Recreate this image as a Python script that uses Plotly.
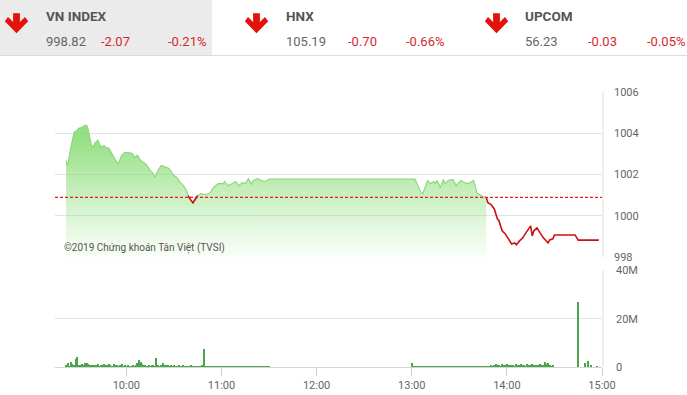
import plotly.graph_objects as go
import pandas as pd

W, H = 687, 395
DAY = "2019-06-03 "
ref_close = 1000.89

# ---- header data ----
header_names = ["VN INDEX", "HNX", "UPCOM"]
header_values = ["998.82", "105.19", "56.23"]
header_changes = ["-2.07", "-0.70", "-0.03"]
header_pcts = ["-0.21%", "-0.66%", "-0.05%"]

# ---- intraday index ----
price_times = [
    "09:22", "09:23", "09:25", "09:27", "09:29", "09:30", "09:32", "09:34", "09:35", "09:36",
    "09:37", "09:38", "09:39", "09:40", "09:42", "09:43", "09:44", "09:46", "09:47", "09:49",
    "09:51", "09:52", "09:54", "09:55", "09:57", "09:59", "10:01", "10:04", "10:05", "10:07",
    "10:09", "10:11", "10:13", "10:15", "10:17", "10:18", "10:20", "10:22", "10:25", "10:27",
    "10:29", "10:30", "10:32", "10:34", "10:36", "10:38", "10:39", "10:40", "10:42", "10:44",
    "10:45", "10:47", "10:50", "10:53", "10:55", "10:58", "11:01", "11:02", "11:04", "11:07",
    "11:09", "11:11", "11:13", "11:15", "11:17", "11:19", "11:20", "11:23", "11:25", "11:28",
    "11:30", "13:02", "13:04", "13:06", "13:07", "13:09", "13:10", "13:12", "13:14", "13:15",
    "13:16", "13:18", "13:20", "13:21", "13:23", "13:26", "13:28", "13:29", "13:31", "13:33",
    "13:35", "13:37", "13:39", "13:40", "13:41", "13:43", "13:45", "13:47", "13:48", "13:50",
    "13:52", "13:54", "13:55", "13:57", "13:59", "14:01", "14:03", "14:05", "14:06", "14:08",
    "14:10", "14:12", "14:14", "14:15", "14:16", "14:17", "14:19", "14:21", "14:23", "14:26",
    "14:27", "14:29", "14:30", "14:43", "14:45", "14:58",
]
price_values = [
    1002.68, 1002.44, 1003.32, 1004.05, 1004.15, 1004.24, 1004.29, 1004.39, 1004.39, 1004.15,
    1003.76, 1003.41, 1003.32, 1003.51, 1003.66, 1003.51, 1003.32, 1003.41, 1003.32, 1003.27,
    1003.02, 1002.83, 1002.59, 1002.54, 1002.93, 1003.07, 1003.07, 1003.02, 1002.83, 1002.93,
    1002.68, 1002.59, 1002.44, 1002.20, 1002.05, 1001.85, 1002.20, 1002.44, 1002.34, 1002.29,
    1002.05, 1001.95, 1001.85, 1001.61, 1001.46, 1001.22, 1000.98, 1000.83, 1000.63, 1000.83,
    1000.98, 1001.07, 1001.02, 1001.12, 1001.37, 1001.56, 1001.56, 1001.66, 1001.46, 1001.56,
    1001.66, 1001.46, 1001.61, 1001.56, 1001.80, 1001.51, 1001.71, 1001.80, 1001.71, 1001.66,
    1001.78, 1001.78, 1001.46, 1001.12, 1001.07, 1001.46, 1001.71, 1001.56, 1001.66, 1001.56,
    1001.71, 1001.37, 1001.76, 1001.56, 1001.71, 1001.76, 1001.46, 1001.56, 1001.71, 1001.61,
    1001.56, 1001.61, 1001.71, 1001.46, 1001.12, 1001.02, 1000.93, 1000.89, 1000.63, 1000.54,
    1000.34, 999.85, 999.76, 999.27, 999.12, 998.88, 998.63, 998.68, 998.59, 998.78,
    998.93, 999.17, 999.37, 999.51, 999.02, 999.27, 999.41, 999.17, 998.93, 998.68,
    998.83, 998.88, 999.07, 999.07, 998.82, 998.82,
]

# ---- volume (millions), one bar per minute ----
am_volume_start = "09:22"
am_volume = [
    1.1, 1.8, 0.8, 2.2, 1.3, 1.0, 3.6, 4.3, 1.2, 0.9,
    1.4, 1.1, 1.7, 1.9, 1.3, 1.0, 1.2, 0.9, 1.1, 1.0,
    1.3, 0.8, 1.2, 1.0, 1.4, 0.9, 1.1, 1.3, 1.0, 0.8,
    1.5, 0.9, 1.2, 0.7, 1.0, 1.6, 0.8, 1.1, 0.7, 0.9,
    0.6, 0.8, 1.0, 0.7, 1.2, 2.0, 3.1, 2.1, 1.3, 0.9,
    1.1, 0.8, 1.0, 0.7, 0.9, 1.2, 0.8, 4.1, 1.0, 0.8,
    1.1, 1.7, 1.2, 0.9, 1.0, 0.8, 1.1, 0.7, 0.9, 0.6,
    0.8, 1.0, 0.6, 0.7, 0.9, 0.5, 0.8, 0.6, 0.7, 0.9,
    0.5, 0.7, 0.6, 0.8, 0.5, 0.7, 0.9, 7.6, 0.6, 0.5,
    0.7, 0.4, 0.6, 0.5, 0.7, 0.4, 0.8, 0.5, 0.6, 0.4,
    0.7, 0.5, 0.6, 0.4, 0.5, 0.7, 0.4, 0.6, 0.5, 0.4,
    0.6, 0.5, 0.7, 0.4, 0.5, 0.6, 0.4, 0.5, 0.6, 0.4,
    0.5, 0.4, 0.6, 0.5, 0.4, 0.5, 0.4, 0.5, 0.4,
]
pm_volume_start = "13:00"
pm_volume = [
    2.0,
    0.5, 0.4, 0.6, 0.3, 0.5, 0.4, 0.6, 0.5, 0.4, 0.5,
    0.3, 0.6, 0.4, 0.5, 0.4, 0.3, 0.5, 0.6, 0.4, 0.5,
    0.4, 0.6, 0.5, 0.4, 0.7, 0.5, 0.4, 0.6, 0.5, 0.4,
    0.5, 0.6, 0.4, 0.5, 0.7, 0.5, 0.4, 0.6, 0.5, 0.6,
    0.4, 0.5, 0.7, 0.5, 0.6, 0.8, 0.5, 0.6, 0.7,
    1.2, 0.8, 1.0, 1.4, 0.9, 1.1, 0.8, 1.3, 1.0, 0.9,
    1.5, 1.1, 0.9, 1.2, 1.0, 0.8, 1.4, 1.1, 0.9, 1.3,
    1.0, 1.2, 0.8, 1.5, 1.1, 0.9, 1.3, 1.0, 1.2, 0.9,
    1.1, 1.6, 1.0, 0.9, 2.3, 1.6, 2.0, 1.2, 0.8, 1.0,
]
late_volume_times = ["14:45", "14:49", "14:51", "14:53", "14:57"]
late_volume = [27.0, 2.0, 2.5, 1.1, 0.8]

price_ticks = [998, 1000, 1002, 1004, 1006]
volume_ticks = [0, 20, 40]
volume_tick_labels = ["0", "20M", "40M"]
hour_ticks = ["10:00", "11:00", "12:00", "13:00", "14:00", "15:00"]
axis_start, axis_end = "09:15", "15:00"

# ---------------------------------------------------------------
def px(x):
    return x / W


def py(y):
    return 1 - y / H


def T(s):
    return pd.Timestamp(DAY + s)


FONT = "Roboto, sans-serif"

t_price = [T(s) for s in price_times]
n = len(price_values)
below = [v < ref_close for v in price_values]
last_above = max(i for i, v in enumerate(price_values) if v >= ref_close)
green_x = t_price[: last_above + 1]
green_y = price_values[: last_above + 1]
red_y = [
    v if (below[i] or (i > 0 and below[i - 1]) or (i < n - 1 and below[i + 1])) else None
    for i, v in enumerate(price_values)
]

vol_x = (
    list(pd.date_range(T(am_volume_start), periods=len(am_volume), freq="min"))
    + list(pd.date_range(T(pm_volume_start), periods=len(pm_volume), freq="min"))
    + [T(s) for s in late_volume_times]
)
vol_y = am_volume + pm_volume + late_volume

fig = go.Figure()

fig.add_trace(go.Scatter(
    x=green_x, y=green_y, mode="lines",
    line=dict(color="#8ad678", width=1.1),
    fill="tozeroy",
    fillgradient=dict(
        type="vertical",
        colorscale=[[0, "rgba(150,225,130,0.04)"], [1, "rgba(130,218,110,0.85)"]],
        start=998, stop=1003.8,
    ),
    xaxis="x", yaxis="y", hoverinfo="skip", showlegend=False,
))
fig.add_trace(go.Scatter(
    x=t_price, y=red_y, mode="lines",
    line=dict(color="#cc1111", width=1.6),
    connectgaps=False,
    xaxis="x", yaxis="y", hoverinfo="skip", showlegend=False,
))
fig.add_trace(go.Scatter(
    x=[T(axis_start), T(axis_end)], y=[ref_close, ref_close], mode="lines",
    line=dict(color="#e01e1e", width=1.2, dash="3px,2px"),
    xaxis="x", yaxis="y", hoverinfo="skip", showlegend=False,
))
fig.add_trace(go.Bar(
    x=vol_x, y=vol_y, width=40000,
    marker=dict(color="#49a649", line=dict(width=0)),
    xaxis="x2", yaxis="y2", hoverinfo="skip", showlegend=False,
))

xdom = [px(55), px(602)]
grid = "#e2e2e2"
tickfont = dict(family=FONT, size=11, color="#666666")

fig.update_layout(
    width=W, height=H,
    margin=dict(l=0, r=0, t=0, b=0),
    paper_bgcolor="white", plot_bgcolor="white",
    bargap=0,
    xaxis=dict(
        domain=xdom, anchor="y", matches="x2", type="date",
        range=[T(axis_start), T(axis_end)],
        showgrid=False, showticklabels=False, ticks="", zeroline=False, showline=False,
    ),
    yaxis=dict(
        domain=[py(257), py(92)], anchor="x", side="right",
        range=[998, 1006], tickvals=price_ticks, ticktext=[str(v) for v in price_ticks],
        showgrid=True, gridcolor=grid, gridwidth=1, zeroline=False, showline=False,
        ticks="", ticklabelstandoff=11, tickfont=tickfont, automargin=False,
    ),
    xaxis2=dict(
        domain=xdom, anchor="y2", type="date",
        range=[T(axis_start), T(axis_end)],
        tickvals=[T(s) for s in hour_ticks], ticktext=hour_ticks,
        showgrid=False, zeroline=False, showline=True, linecolor="#d6d6d6", linewidth=1,
        ticks="outside", ticklen=8, tickcolor="#d0d0d0", tickwidth=1,
        tickfont=tickfont, automargin=False,
    ),
    yaxis2=dict(
        domain=[py(367), py(270.5)], anchor="x2", side="right",
        range=[0, 40], tickvals=volume_ticks, ticktext=volume_tick_labels,
        showgrid=True, gridcolor=grid, gridwidth=1, zeroline=False, showline=False,
        ticks="", ticklabelstandoff=13, tickfont=tickfont, automargin=False,
    ),
)

shapes = []
# header background and separator
shapes.append(dict(type="rect", xref="paper", yref="paper", x0=0, x1=px(212), y0=py(55), y1=1,
                   fillcolor="#ebebeb", line=dict(width=0), layer="below"))
shapes.append(dict(type="line", xref="paper", yref="paper", x0=0, x1=1, y0=py(55.5), y1=py(55.5),
                   line=dict(color="#dcdcdc", width=1)))
# right borders of the two panels
for (ya, yb) in [(92, 257), (270.5, 367)]:
    shapes.append(dict(type="line", xref="paper", yref="paper", x0=px(603), x1=px(603),
                       y0=py(ya), y1=py(yb), line=dict(color="#dedede", width=1)))


def arrow_path(cx):
    pts = [(cx - 3.4, 13.3), (cx + 3.4, 13.3), (cx + 3.4, 22.0), (cx + 8.5, 17.0),
           (cx + 11.7, 21.3), (cx, 33.3), (cx - 11.7, 21.3), (cx - 8.5, 17.0), (cx - 3.4, 22.0)]
    s = "M " + " L ".join(f"{px(a):.5f},{py(b):.5f}" for a, b in pts) + " Z"
    return s


arrow_cx = [16.5, 256.5, 496.5]
for cx in arrow_cx:
    shapes.append(dict(type="path", xref="paper", yref="paper", path=arrow_path(cx),
                       fillcolor="#e3120b", line=dict(width=0)))
fig.update_layout(shapes=shapes)

ann = []
name_x = [44, 284, 523]
change_x = [99, 346, 586]
pct_x = [166, 404, 645]
for i in range(3):
    ann.append(dict(x=px(name_x[i]), y=py(16), xref="paper", yref="paper", xanchor="left",
                    yanchor="middle", showarrow=False, text=f"<b>{header_names[i]}</b>",
                    font=dict(family=FONT, size=13.5, color="#555555")))
    ann.append(dict(x=px(name_x[i]), y=py(41), xref="paper", yref="paper", xanchor="left",
                    yanchor="middle", showarrow=False, text=header_values[i],
                    font=dict(family=FONT, size=13, color="#666666")))
    ann.append(dict(x=px(change_x[i]), y=py(41), xref="paper", yref="paper", xanchor="left",
                    yanchor="middle", showarrow=False, text=header_changes[i],
                    font=dict(family=FONT, size=13, color="#d9262e")))
    ann.append(dict(x=px(pct_x[i]), y=py(41), xref="paper", yref="paper", xanchor="left",
                    yanchor="middle", showarrow=False, text=header_pcts[i],
                    font=dict(family=FONT, size=13, color="#d9262e")))
ann.append(dict(x=px(62), y=py(248), xref="paper", yref="paper", xanchor="left", yanchor="middle",
                showarrow=False, text="©2019 Chứng khoán Tân Việt (TVSI)",
                font=dict(family=FONT, size=10, color="#555555")))
fig.update_layout(annotations=ann)

fig.write_html("out.html")
